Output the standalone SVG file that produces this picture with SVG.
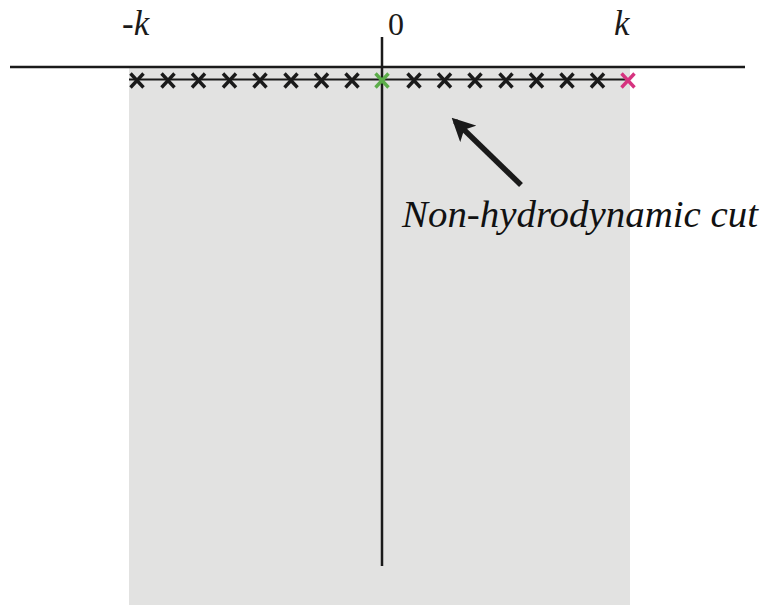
<svg xmlns="http://www.w3.org/2000/svg" xmlns:xlink="http://www.w3.org/1999/xlink" width="766" height="605" viewBox="0 0 766 605">
<style>
.ax{stroke:#1a1a1a;stroke-width:2.5;fill:none}
.lbl{font-family:"Liberation Serif","Times New Roman",serif;font-style:italic;font-size:35px;fill:#1a1a1a}
.num{font-family:"Liberation Serif","Times New Roman",serif;font-size:32px;fill:#1a1a1a}
.cut{font-family:"Liberation Serif","Times New Roman",serif;font-style:italic;font-size:37px;fill:#111}
</style>
<defs>
<g id="x"><path d="M-6.5,-7L6.5,7M6.5,-7L-6.5,7" stroke-width="3.4"/></g>
<marker id="ah" viewBox="0 0 10 10" refX="8" refY="5" markerWidth="4.2" markerHeight="4.2" orient="auto"><path d="M0,0L10,5L0,10L2.5,5Z" fill="#1a1a1a"/></marker>
</defs>
<rect width="766" height="605" fill="#fff"/>
<g id="region"><rect x="129" y="68" width="501" height="537" fill="#e2e2e1"/></g>
<g id="connectors">
<line class="ax" x1="10" y1="67" x2="745" y2="67"/>
<line class="ax" x1="382" y1="37" x2="382" y2="566"/>
<line x1="129" y1="79.5" x2="626" y2="79.5" stroke="#1a1a1a" stroke-width="2"/>
<line x1="521" y1="185" x2="455" y2="121" stroke="#1a1a1a" stroke-width="5.5" marker-end="url(#ah)"/>
</g>
<g id="poles" stroke="#1a1a1a">
<use xlink:href="#x" x="137" y="80.5"/>
<use xlink:href="#x" x="168" y="80.5"/>
<use xlink:href="#x" x="198.5" y="80.5"/>
<use xlink:href="#x" x="229.5" y="80.5"/>
<use xlink:href="#x" x="260" y="80.5"/>
<use xlink:href="#x" x="291" y="80.5"/>
<use xlink:href="#x" x="321.5" y="80.5"/>
<use xlink:href="#x" x="352" y="80.5"/>
<use xlink:href="#x" x="414" y="80.5"/>
<use xlink:href="#x" x="444.5" y="80.5"/>
<use xlink:href="#x" x="475" y="80.5"/>
<use xlink:href="#x" x="506" y="80.5"/>
<use xlink:href="#x" x="536.5" y="80.5"/>
<use xlink:href="#x" x="567" y="80.5"/>
<use xlink:href="#x" x="597.5" y="80.5"/>
</g>
<g id="origin-pole" stroke="#5cad4a"><use xlink:href="#x" x="382" y="80.5"/></g>
<g id="k-pole" stroke="#d6337f"><use xlink:href="#x" x="628" y="80.5"/></g>
<g id="labels">
<text class="lbl" x="122" y="35">-k</text>
<text class="num" x="388" y="35">0</text>
<text class="lbl" x="614" y="35">k</text>
<text class="cut" x="402" y="227" textLength="356" lengthAdjust="spacingAndGlyphs">Non-hydrodynamic cut</text>
</g>
</svg>
